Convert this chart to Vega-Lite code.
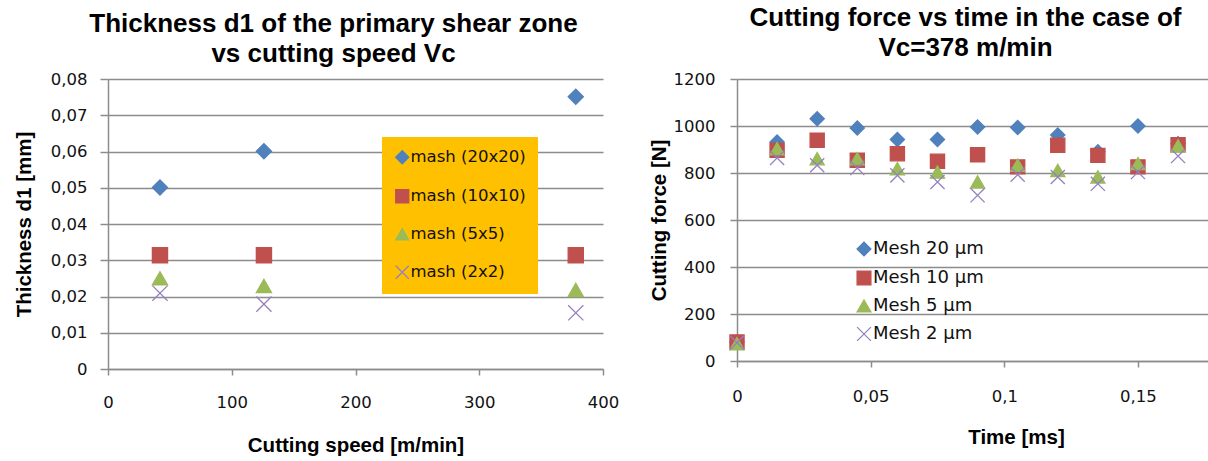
{
  "$schema": "https://vega.github.io/schema/vega-lite/v6.json",
  "padding": {"left": 14, "top": 5, "right": 0, "bottom": 0},
  "bounds": "flush",
  "spacing": 134,
  "background": "white",
  "config": {
    "view": {"stroke": null},
    "font": "DejaVu Sans",
    "axis": {
      "gridColor": "#8c8c8c", "gridWidth": 1.5,
      "domainColor": "#8c8c8c", "domainWidth": 1.5,
      "tickColor": "#8c8c8c", "tickWidth": 1.5,
      "labelFont": "DejaVu Sans", "labelFontSize": 16.5, "labelColor": "#111",
      "labelFlush": false, "labelOverlap": false,
      "titleFont": "Liberation Sans", "titleFontSize": 20.5, "titleFontWeight": "bold", "titleColor": "#000"
    },
    "title": {"font": "Liberation Sans", "fontSize": 26, "fontWeight": "bold", "lineHeight": 30, "color": "#000", "anchor": "middle"}
  },
  "datasets": {
    "thick": [
      {"speed": 42, "d1": 0.0501, "series": "mash (20x20)"},
      {"speed": 126, "d1": 0.0601, "series": "mash (20x20)"},
      {"speed": 378, "d1": 0.0751, "series": "mash (20x20)"},
      {"speed": 42, "d1": 0.0314, "series": "mash (10x10)"},
      {"speed": 126, "d1": 0.0314, "series": "mash (10x10)"},
      {"speed": 378, "d1": 0.0314, "series": "mash (10x10)"},
      {"speed": 42, "d1": 0.0250, "series": "mash (5x5)"},
      {"speed": 126, "d1": 0.0229, "series": "mash (5x5)"},
      {"speed": 378, "d1": 0.0218, "series": "mash (5x5)"},
      {"speed": 42, "d1": 0.0209, "series": "mash (2x2)"},
      {"speed": 126, "d1": 0.0179, "series": "mash (2x2)"},
      {"speed": 378, "d1": 0.0155, "series": "mash (2x2)"}
    ],
    "force": [
      {"t": 0, "F": 80, "mesh": "Mesh 20 µm"},
      {"t": 0.015, "F": 932, "mesh": "Mesh 20 µm"},
      {"t": 0.03, "F": 1031, "mesh": "Mesh 20 µm"},
      {"t": 0.045, "F": 991, "mesh": "Mesh 20 µm"},
      {"t": 0.06, "F": 943, "mesh": "Mesh 20 µm"},
      {"t": 0.075, "F": 943, "mesh": "Mesh 20 µm"},
      {"t": 0.09, "F": 996, "mesh": "Mesh 20 µm"},
      {"t": 0.105, "F": 994, "mesh": "Mesh 20 µm"},
      {"t": 0.12, "F": 962, "mesh": "Mesh 20 µm"},
      {"t": 0.135, "F": 890, "mesh": "Mesh 20 µm"},
      {"t": 0.15, "F": 1000, "mesh": "Mesh 20 µm"},
      {"t": 0.165, "F": 925, "mesh": "Mesh 20 µm"},
      {"t": 0, "F": 81, "mesh": "Mesh 10 µm"},
      {"t": 0.015, "F": 897, "mesh": "Mesh 10 µm"},
      {"t": 0.03, "F": 939, "mesh": "Mesh 10 µm"},
      {"t": 0.045, "F": 854, "mesh": "Mesh 10 µm"},
      {"t": 0.06, "F": 882, "mesh": "Mesh 10 µm"},
      {"t": 0.075, "F": 850, "mesh": "Mesh 10 µm"},
      {"t": 0.09, "F": 878, "mesh": "Mesh 10 µm"},
      {"t": 0.105, "F": 826, "mesh": "Mesh 10 µm"},
      {"t": 0.12, "F": 918, "mesh": "Mesh 10 µm"},
      {"t": 0.135, "F": 875, "mesh": "Mesh 10 µm"},
      {"t": 0.15, "F": 826, "mesh": "Mesh 10 µm"},
      {"t": 0.165, "F": 920, "mesh": "Mesh 10 µm"},
      {"t": 0, "F": 74, "mesh": "Mesh 5 µm"},
      {"t": 0.015, "F": 903, "mesh": "Mesh 5 µm"},
      {"t": 0.03, "F": 861, "mesh": "Mesh 5 µm"},
      {"t": 0.045, "F": 861, "mesh": "Mesh 5 µm"},
      {"t": 0.06, "F": 818, "mesh": "Mesh 5 µm"},
      {"t": 0.075, "F": 804, "mesh": "Mesh 5 µm"},
      {"t": 0.09, "F": 762, "mesh": "Mesh 5 µm"},
      {"t": 0.105, "F": 833, "mesh": "Mesh 5 µm"},
      {"t": 0.12, "F": 811, "mesh": "Mesh 5 µm"},
      {"t": 0.135, "F": 783, "mesh": "Mesh 5 µm"},
      {"t": 0.15, "F": 840, "mesh": "Mesh 5 µm"},
      {"t": 0.165, "F": 915, "mesh": "Mesh 5 µm"},
      {"t": 0, "F": 78, "mesh": "Mesh 2 µm"},
      {"t": 0.015, "F": 864, "mesh": "Mesh 2 µm"},
      {"t": 0.03, "F": 833, "mesh": "Mesh 2 µm"},
      {"t": 0.045, "F": 821, "mesh": "Mesh 2 µm"},
      {"t": 0.06, "F": 790, "mesh": "Mesh 2 µm"},
      {"t": 0.075, "F": 762, "mesh": "Mesh 2 µm"},
      {"t": 0.09, "F": 705, "mesh": "Mesh 2 µm"},
      {"t": 0.105, "F": 793, "mesh": "Mesh 2 µm"},
      {"t": 0.12, "F": 783, "mesh": "Mesh 2 µm"},
      {"t": 0.135, "F": 754, "mesh": "Mesh 2 µm"},
      {"t": 0.15, "F": 804, "mesh": "Mesh 2 µm"},
      {"t": 0.165, "F": 872, "mesh": "Mesh 2 µm"}
    ]
  },
  "hconcat": [
    {
      "width": 495,
      "height": 290,
      "title": {"text": ["Thickness d1 of the primary shear zone", "vs cutting speed Vc"], "dx": -22, "dy": 22, "offset": 0, "baseline": "bottom"},
      "data": {"name": "thick"},
      "mark": {"type": "point", "filled": true, "opacity": 1, "strokeWidth": 1.3, "size": 230},
      "encoding": {
        "x": {"field": "speed", "type": "quantitative", "scale": {"domain": [0, 400], "nice": false},
          "axis": {"values": [0, 100, 200, 300, 400], "grid": false, "tickSize": 6, "labelPadding": 19,
            "labelExpr": "replace(toString(datum.value), '.', ',')",
            "title": "Cutting speed  [m/min]", "titleX": 247.5, "titleY": 82, "titleBaseline": "alphabetic"}},
        "y": {"field": "d1", "type": "quantitative", "scale": {"domain": [0, 0.08], "nice": false},
          "axis": {"values": [0, 0.01, 0.02, 0.03, 0.04, 0.05, 0.06, 0.07, 0.08], "tickSize": 8, "labelPadding": 13,
            "labelExpr": "replace(toString(datum.value), '.', ',')",
            "title": "Thickness  d1  [mm]", "titleX": -78, "titleY": 145, "titleAngle": 270, "titleBaseline": "alphabetic", "titleAlign": "center"}},
        "color": {"field": "series", "type": "nominal",
          "scale": {"domain": ["mash (20x20)", "mash (10x10)", "mash (5x5)", "mash (2x2)"], "range": ["#4F81BD", "#C0504D", "#9BBB59", "#8064A2"]},
          "legend": {"title": null, "orient": "none", "legendX": 274, "legendY": 58, "fillColor": "#FFC000", "padding": 12, "rowPadding": 20,
            "labelFont": "DejaVu Sans", "labelFontSize": 16.5, "labelColor": "#111", "symbolSize": 170, "symbolStrokeWidth": 1.3, "labelOffset": 0, "symbolOpacity": 1, "labelLimit": 300}},
        "shape": {"field": "series", "type": "nominal",
          "scale": {"domain": ["mash (20x20)", "mash (10x10)", "mash (5x5)", "mash (2x2)"], "range": ["diamond", "square", "triangle-up", "M-1,-1L1,1M1,-1L-1,1"]}},
        "stroke": {"field": "series", "type": "nominal",
          "scale": {"domain": ["mash (20x20)", "mash (10x10)", "mash (5x5)", "mash (2x2)"], "range": ["#4F81BD", "#C0504D", "#9BBB59", "#9481BE"]}}
      }
    },
    {
      "width": 471,
      "height": 282,
      "title": {"text": ["Cutting force vs time in the case of", "Vc=378 m/min"], "dx": -7, "dy": 16, "offset": 0, "baseline": "bottom"},
      "data": {"name": "force"},
      "mark": {"type": "point", "filled": true, "opacity": 1, "strokeWidth": 1.3, "size": 200},
      "encoding": {
        "x": {"field": "t", "type": "quantitative", "scale": {"domain": [0, 0.1762], "nice": false},
          "axis": {"values": [0, 0.05, 0.1, 0.15], "grid": false, "tickSize": 6, "labelPadding": 21,
            "labelExpr": "replace(toString(datum.value), '.', ',')",
            "title": "Time [ms]", "titleX": 279, "titleY": 82, "titleBaseline": "alphabetic"}},
        "y": {"field": "F", "type": "quantitative", "scale": {"domain": [0, 1200], "nice": false},
          "axis": {"values": [0, 200, 400, 600, 800, 1000, 1200], "format": "d", "tickSize": 7, "labelPadding": 15,
            "title": "Cutting force  [N]", "titleX": -72, "titleY": 141, "titleAngle": 270, "titleBaseline": "alphabetic", "titleAlign": "center"}},
        "color": {"field": "mesh", "type": "nominal",
          "scale": {"domain": ["Mesh 20 µm", "Mesh 10 µm", "Mesh 5 µm", "Mesh 2 µm"], "range": ["#4F81BD", "#C0504D", "#9BBB59", "#8064A2"]},
          "legend": {"title": null, "orient": "none", "legendX": 118, "legendY": 161, "padding": 0, "rowPadding": 9,
            "labelFont": "DejaVu Sans", "labelFontSize": 18, "labelColor": "#111", "symbolSize": 190, "symbolStrokeWidth": 1.3, "labelOffset": 0, "symbolOpacity": 1, "labelLimit": 300}},
        "shape": {"field": "mesh", "type": "nominal",
          "scale": {"domain": ["Mesh 20 µm", "Mesh 10 µm", "Mesh 5 µm", "Mesh 2 µm"], "range": ["diamond", "square", "triangle-up", "M-1,-1L1,1M1,-1L-1,1"]}},
        "stroke": {"field": "mesh", "type": "nominal",
          "scale": {"domain": ["Mesh 20 µm", "Mesh 10 µm", "Mesh 5 µm", "Mesh 2 µm"], "range": ["#4F81BD", "#C0504D", "#9BBB59", "#9481BE"]}}
      }
    }
  ],
  "resolve": {"scale": {"color": "independent", "shape": "independent", "stroke": "independent"}}
}
